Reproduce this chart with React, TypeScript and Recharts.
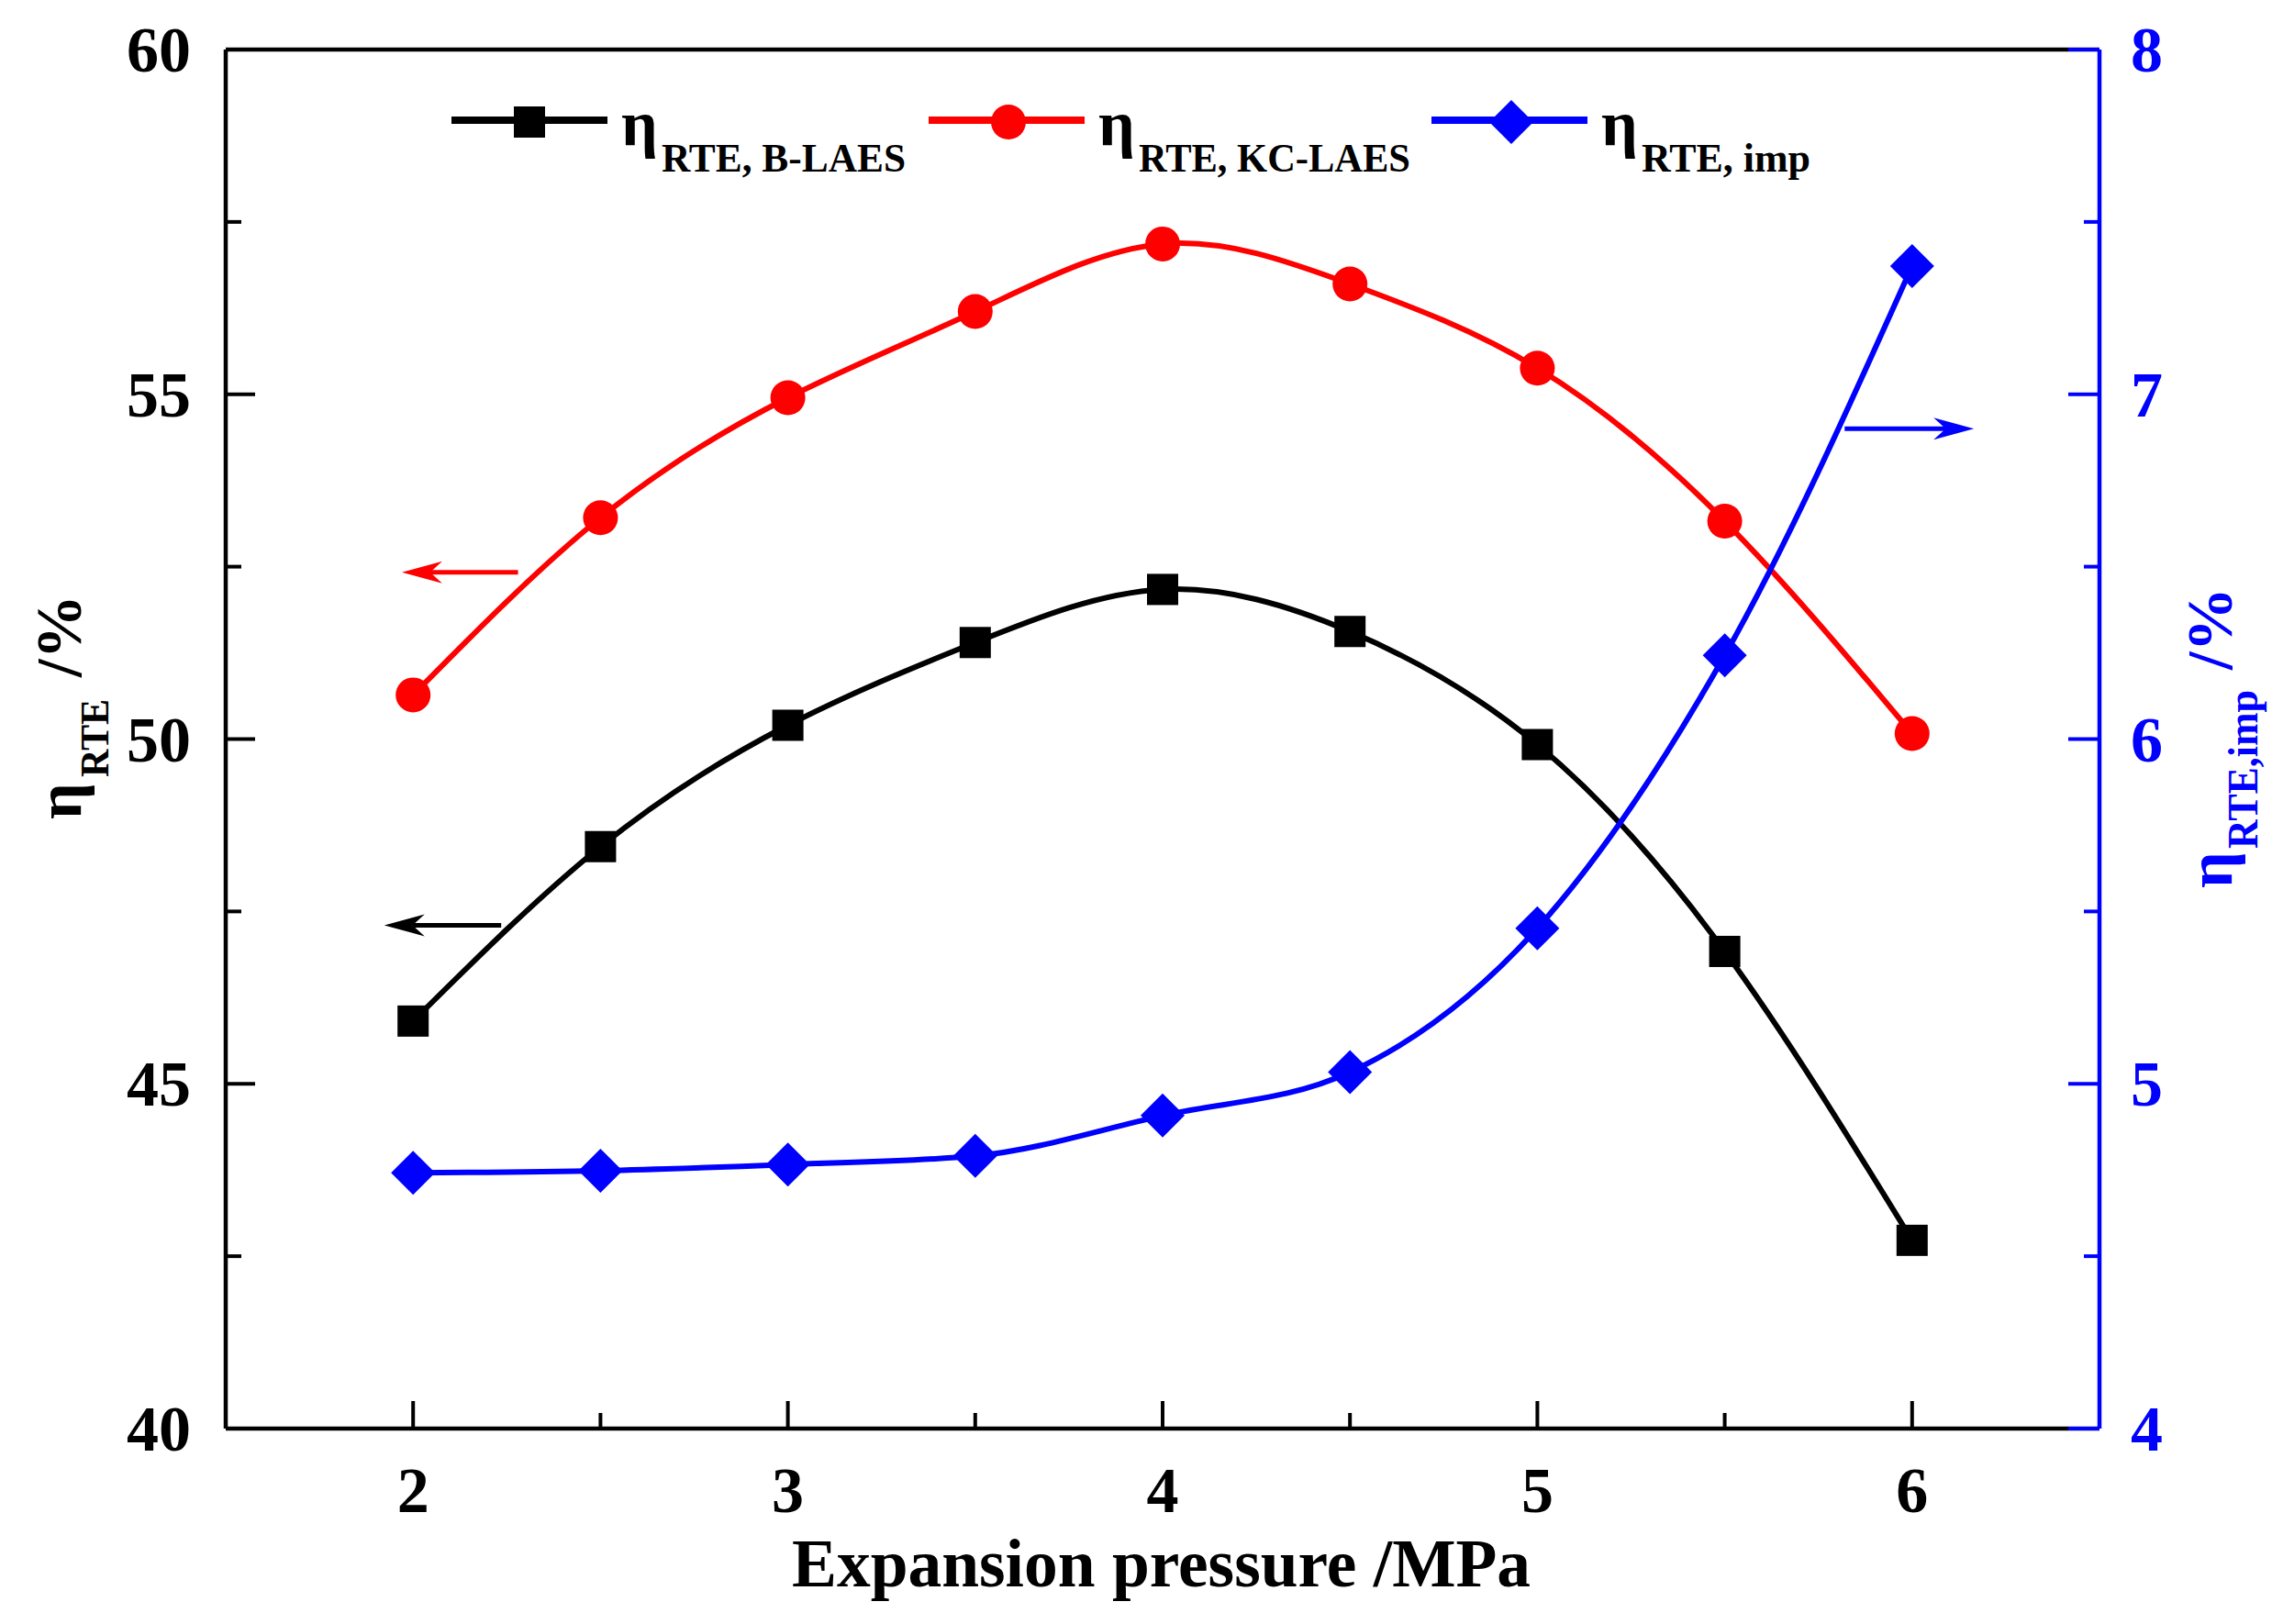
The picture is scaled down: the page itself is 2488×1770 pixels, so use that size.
import React from "react"
import { Customized, Line, LineChart, ReferenceLine, XAxis, YAxis } from "recharts"

// expansion pressure, MPa
const pressure = [2, 2.5, 3, 3.5, 4, 4.5, 5, 5.5, 6]
// round-trip efficiencies, %
const rteBLaes = [45.91, 48.44, 50.2, 51.4, 52.17, 51.56, 49.92, 46.92, 42.73]
const rteKcLaes = [50.64, 53.21, 54.95, 56.2, 57.18, 56.6, 55.38, 53.16, 50.08]
const rteImp = [4.742, 4.748, 4.766, 4.791, 4.908, 5.034, 5.451, 6.243, 7.372]

const xTicks = [2, 2.5, 3, 3.5, 4, 4.5, 5, 5.5, 6]
const leftTicks = [40, 42.5, 45, 47.5, 50, 52.5, 55, 57.5, 60]
const rightTicks = [4, 4.5, 5, 5.5, 6, 6.5, 7, 7.5, 8]

// axis-pointing arrows: [from x, to x, y]
const arrowB = [2.235, 1.923, 47.3]
const arrowKC = [2.28, 1.97, 52.42]
const arrowImp = [5.82, 6.165, 6.9]

const rows = pressure.map((p, i) => ({
  p,
  b: rteBLaes[i],
  kc: rteKcLaes[i],
  imp: rteImp[i],
}))

const FONT = "'Liberation Serif', 'Times New Roman', serif"
const BLUE = "#0000FF"
const RED = "#FF0000"

const isMajor = (v: number) => Math.abs(v - Math.round(v)) < 1e-6

const XTick = (props: any) => {
  const { x, y, payload } = props
  const major = isMajor(payload.value)
  return (
    <g>
      <line x1={x} x2={x} y1={y} y2={y - (major ? 30 : 17)} stroke="#000" strokeWidth={4} />
      {major && (
        <text x={x} y={y + 91} textAnchor="middle" fontFamily={FONT} fontWeight="bold" fontSize={70} fill="#000">
          {payload.value}
        </text>
      )}
    </g>
  )
}

const LeftTick = (props: any) => {
  const { x, y, payload } = props
  const major = payload.value % 5 === 0
  return (
    <g>
      <line x1={x} x2={x + (major ? 32 : 17)} y1={y} y2={y} stroke="#000" strokeWidth={4} />
      {major && (
        <text x={x - 38} y={y + 24} textAnchor="end" fontFamily={FONT} fontWeight="bold" fontSize={70} fill="#000">
          {payload.value}
        </text>
      )}
    </g>
  )
}

const RightTick = (props: any) => {
  const { x, y, payload } = props
  const major = isMajor(payload.value)
  return (
    <g>
      <line x1={x} x2={x - (major ? 34 : 17)} y1={y} y2={y} stroke={BLUE} strokeWidth={4} />
      {major && (
        <text x={x + 34} y={y + 24} textAnchor="start" fontFamily={FONT} fontWeight="bold" fontSize={70} fill={BLUE}>
          {payload.value}
        </text>
      )}
    </g>
  )
}

const squareDot = (props: any) => (
  <rect key={`s-${props.index}`} x={props.cx - 17} y={props.cy - 17} width={34} height={34} fill="#000" />
)

const circleDot = (props: any) => (
  <circle key={`c-${props.index}`} cx={props.cx} cy={props.cy} r={19} fill={RED} />
)

const diamondPath = (cx: number, cy: number, h: number) =>
  `M${cx},${cy - h} L${cx + h},${cy} L${cx},${cy + h} L${cx - h},${cy} Z`

const diamondDot = (props: any) => (
  <path key={`d-${props.index}`} d={diamondPath(props.cx, props.cy, 24)} fill={BLUE} />
)

const arrowShape = (color: string) => (props: any) => {
  const { x1, y1, x2, y2 } = props
  const dir = x2 > x1 ? 1 : -1
  const head = 44
  return (
    <g>
      <line x1={x1} y1={y1} x2={x2 - dir * head * 0.7} y2={y2} stroke={color} strokeWidth={5} />
      <path
        d={`M${x2},${y2} L${x2 - dir * head},${y2 - 12} L${x2 - dir * head * 0.7},${y2} L${x2 - dir * head},${y2 + 12} Z`}
        fill={color}
      />
    </g>
  )
}

const LegendItem = ({ x, color, marker, sub, subLen }: any) => (
  <g>
    <line x1={x} x2={x + 170} y1={131} y2={131} stroke={color} strokeWidth={8} />
    {marker === "square" && <rect x={x + 68} y={116} width={34} height={34} fill={color} />}
    {marker === "circle" && <circle cx={x + 87} cy={133} r={19} fill={color} />}
    {marker === "diamond" && <path d={diamondPath(x + 87, 133, 24)} fill={color} />}
    <text x={x + 185} y={158} fontFamily={FONT} fontWeight="bold" fontSize={70} fill="#000">
      η
    </text>
    <text
      x={x + 229}
      y={187}
      fontFamily={FONT}
      fontWeight="bold"
      fontSize={45}
      fill="#000"
      textLength={subLen}
      lengthAdjust="spacingAndGlyphs"
    >
      {sub}
    </text>
  </g>
)

const Decorations = () => (
  <g>
    <LegendItem x={492} color="#000" marker="square" sub="RTE, B-LAES" subLen={266} />
    <LegendItem x={1012} color={RED} marker="circle" sub="RTE, KC-LAES" subLen={296} />
    <LegendItem x={1560} color={BLUE} marker="diamond" sub="RTE, imp" subLen={184} />

    <text
      x={863}
      y={1729}
      fontFamily={FONT}
      fontWeight="bold"
      fontSize={74}
      fill="#000"
      textLength={805}
      lengthAdjust="spacingAndGlyphs"
    >
      Expansion pressure /MPa
    </text>

    <g transform="translate(88, 893) rotate(-90)" fontFamily={FONT} fontWeight="bold" fill="#000">
      <text x={0} y={0} fontSize={70}>η</text>
      <text x={46} y={30} fontSize={45} textLength={85} lengthAdjust="spacingAndGlyphs">RTE</text>
      <text x={155} y={0} fontSize={70} textLength={90} lengthAdjust="spacingAndGlyphs">/%</text>
    </g>

    <g transform="translate(2432, 968) rotate(-90)" fontFamily={FONT} fontWeight="bold" fill={BLUE}>
      <text x={0} y={0} fontSize={70}>η</text>
      <text x={43} y={28} fontSize={47} textLength={173} lengthAdjust="spacingAndGlyphs">RTE,imp</text>
      <text x={238} y={0} fontSize={70} textLength={90} lengthAdjust="spacingAndGlyphs">/%</text>
    </g>
  </g>
)

export default function App() {
  return (
    <div style={{ width: 2488, height: 1770, background: "#fff" }}>
      <style>{"body{margin:0}"}</style>
      <LineChart width={2488} height={1770} data={rows} margin={{ top: 54, right: 199, bottom: 212, left: 245 }}>
        <XAxis
          dataKey="p"
          type="number"
          domain={[1.5, 6.5]}
          ticks={xTicks}
          interval={0}
          height={1}
          tickSize={0}
          tickMargin={0}
          tickLine={false}
          tick={<XTick />}
          axisLine={{ stroke: "#000", strokeWidth: 4.5 }}
        />
        <YAxis
          yAxisId="left"
          domain={[40, 60]}
          ticks={leftTicks}
          interval={0}
          width={1}
          tickSize={0}
          tickMargin={0}
          tickLine={false}
          tick={<LeftTick />}
          axisLine={{ stroke: "#000", strokeWidth: 4.5 }}
        />
        <YAxis
          yAxisId="right"
          orientation="right"
          domain={[4, 8]}
          ticks={rightTicks}
          interval={0}
          width={1}
          tickSize={0}
          tickMargin={0}
          tickLine={false}
          tick={<RightTick />}
          axisLine={{ stroke: BLUE, strokeWidth: 4.5 }}
        />
        <ReferenceLine yAxisId="left" y={60} stroke="#000" strokeWidth={4.5} />

        <ReferenceLine
          yAxisId="left"
          segment={[{ x: arrowB[0], y: arrowB[2] }, { x: arrowB[1], y: arrowB[2] }]}
          shape={arrowShape("#000")}
        />
        <ReferenceLine
          yAxisId="left"
          segment={[{ x: arrowKC[0], y: arrowKC[2] }, { x: arrowKC[1], y: arrowKC[2] }]}
          shape={arrowShape(RED)}
        />
        <ReferenceLine
          yAxisId="right"
          segment={[{ x: arrowImp[0], y: arrowImp[2] }, { x: arrowImp[1], y: arrowImp[2] }]}
          shape={arrowShape(BLUE)}
        />

        <Line
          yAxisId="left"
          dataKey="b"
          type="natural"
          stroke="#000"
          strokeWidth={6}
          dot={squareDot}
          activeDot={false}
          isAnimationActive={false}
        />
        <Line
          yAxisId="left"
          dataKey="kc"
          type="natural"
          stroke={RED}
          strokeWidth={6}
          dot={circleDot}
          activeDot={false}
          isAnimationActive={false}
        />
        <Line
          yAxisId="right"
          dataKey="imp"
          type="monotone"
          stroke={BLUE}
          strokeWidth={6}
          dot={diamondDot}
          activeDot={false}
          isAnimationActive={false}
        />
        <Customized component={Decorations} />
      </LineChart>
    </div>
  )
}
